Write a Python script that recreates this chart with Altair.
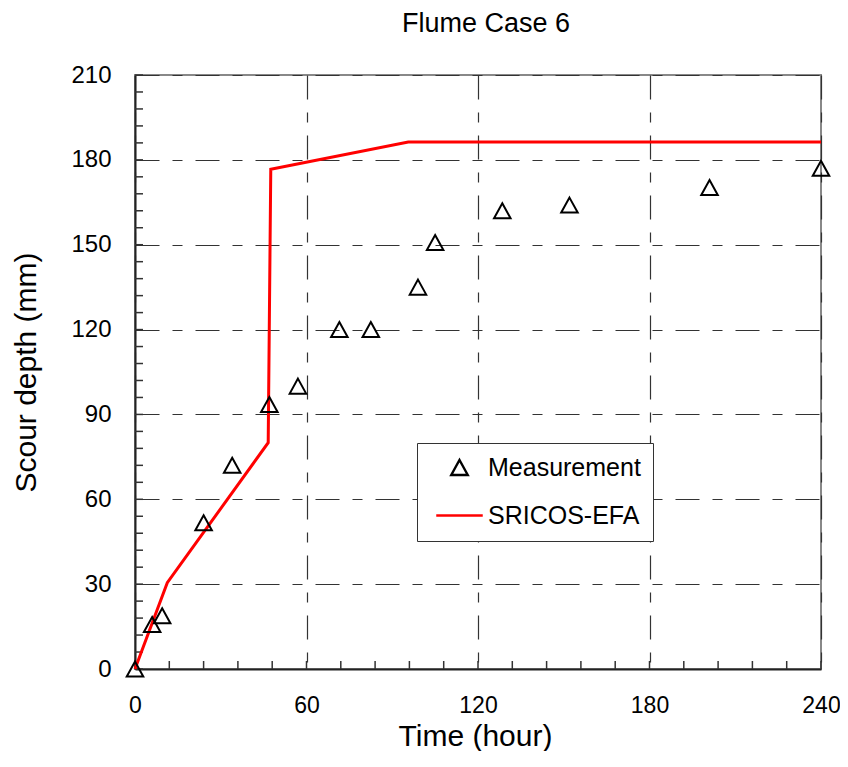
import altair as alt
import pandas as pd

# ---- data ----
meas_t = [0, 6, 9.5, 24, 34, 47, 57, 71.5, 82.5, 99, 105, 128.5, 152, 201, 240]
meas_d = [0, 15.7, 18.8, 51.7, 72, 93.5, 100, 120, 120, 135, 150.8, 162, 164, 170.2, 177]
model_t = [0, 11.3, 46.6, 47.5, 95.6, 240]
model_d = [0, 30.5, 80, 176.7, 186.3, 186.3]

x_major = [0, 60, 120, 180, 240]
y_major = [0, 30, 60, 90, 120, 150, 180, 210]
x_minor = list(range(0, 241, 12))
y_minor = list(range(0, 211, 6))

series_names = ["Measurement", "SRICOS-EFA"]
series_colors = ["black", "#ff0000"]
tri_path = "M0,-1L1.1,1L-1.1,1Z"
line_path = "M-3.1,0H3.1"

FONT = "Liberation Sans"
W, H = 686, 594

meas = pd.DataFrame({"t": meas_t, "d": meas_d, "series": series_names[0]})
model = pd.DataFrame({"t": model_t, "d": model_d, "series": series_names[1]})

xscale = alt.Scale(domain=[0, 240], nice=False, zero=False)
yscale = alt.Scale(domain=[0, 210], nice=False, zero=False)
color_scale = alt.Scale(domain=series_names, range=series_colors)
shape_scale = alt.Scale(domain=series_names, range=[tri_path, line_path])

grid_dash = [24, 13, 10, 13]

x_axis = alt.Axis(
    values=x_major, grid=True, gridDash=grid_dash, gridColor="#333", gridWidth=1.2,
    ticks=False, tickSize=0, labelPadding=25, labelFontSize=23, labelFlush=False,
    title="Time (hour)", titleFontSize=30, titleBaseline="alphabetic",
    titleX=340, titleY=76, titleAlign="center",
)
y_axis = alt.Axis(
    values=y_major, grid=True, gridDash=grid_dash, gridColor="#333", gridWidth=1.2,
    ticks=False, tickSize=0, labelPadding=24, labelFontSize=24, labelFlush=False,
    title="Scour depth (mm)", titleFontSize=30, titleBaseline="alphabetic",
    titleX=-100, titleY=297, titleAlign="center", titleAngle=270,
)

legend = alt.Legend(
    title=None, orient="none", legendX=282, legendY=368,
    strokeColor="#333", fillColor="white", padding=12,
    symbolSize=225, symbolStrokeWidth=2.4, symbolOffset=18,
    labelOffset=16, labelFontSize=25, labelFont=FONT, labelColor="black",
    rowPadding=22,
)

line = alt.Chart(model).mark_line(strokeWidth=3).encode(
    x=alt.X("t:Q", scale=xscale, axis=x_axis),
    y=alt.Y("d:Q", scale=yscale, axis=y_axis),
    color=alt.Color("series:N", scale=color_scale, legend=legend),
)

points = alt.Chart(meas).mark_point(filled=False, size=225, strokeWidth=2, opacity=1).encode(
    x=alt.X("t:Q", scale=xscale, axis=x_axis),
    y=alt.Y("d:Q", scale=yscale, axis=y_axis),
    color=alt.Color("series:N", scale=color_scale, legend=legend),
    shape=alt.Shape("series:N", scale=shape_scale, legend=legend),
)

y_ticks = alt.Chart(pd.DataFrame({"v": y_minor})).mark_rule(color="#333", strokeWidth=1.5).encode(
    y=alt.Y("v:Q", scale=yscale, axis=y_axis),
    x=alt.value(0), x2=alt.value(8),
)
x_ticks = alt.Chart(pd.DataFrame({"v": x_minor})).mark_rule(color="#333", strokeWidth=1.5).encode(
    x=alt.X("v:Q", scale=xscale, axis=x_axis),
    y=alt.value(H), y2=alt.value(H - 8),
)

chart = alt.layer(y_ticks, x_ticks, line, points).properties(
    width=W, height=H,
    autosize=alt.AutoSizeParams(type="none"),
    padding={"left": 127, "top": 67, "right": 19, "bottom": 82},
    title=alt.TitleParams("Flume Case 6", fontSize=27, font=FONT, fontWeight="normal",
                          offset=25, dx=8, anchor="middle", color="black"),
).configure(font=FONT).configure_view(
    stroke="#888", strokeWidth=2
).configure_axis(
    domainColor="#222", domainWidth=2, labelFont=FONT, titleFont=FONT,
    labelColor="black", titleColor="black", titleFontWeight="normal",
)

chart.save("out.html", embed_options={"renderer": "svg", "actions": False})
